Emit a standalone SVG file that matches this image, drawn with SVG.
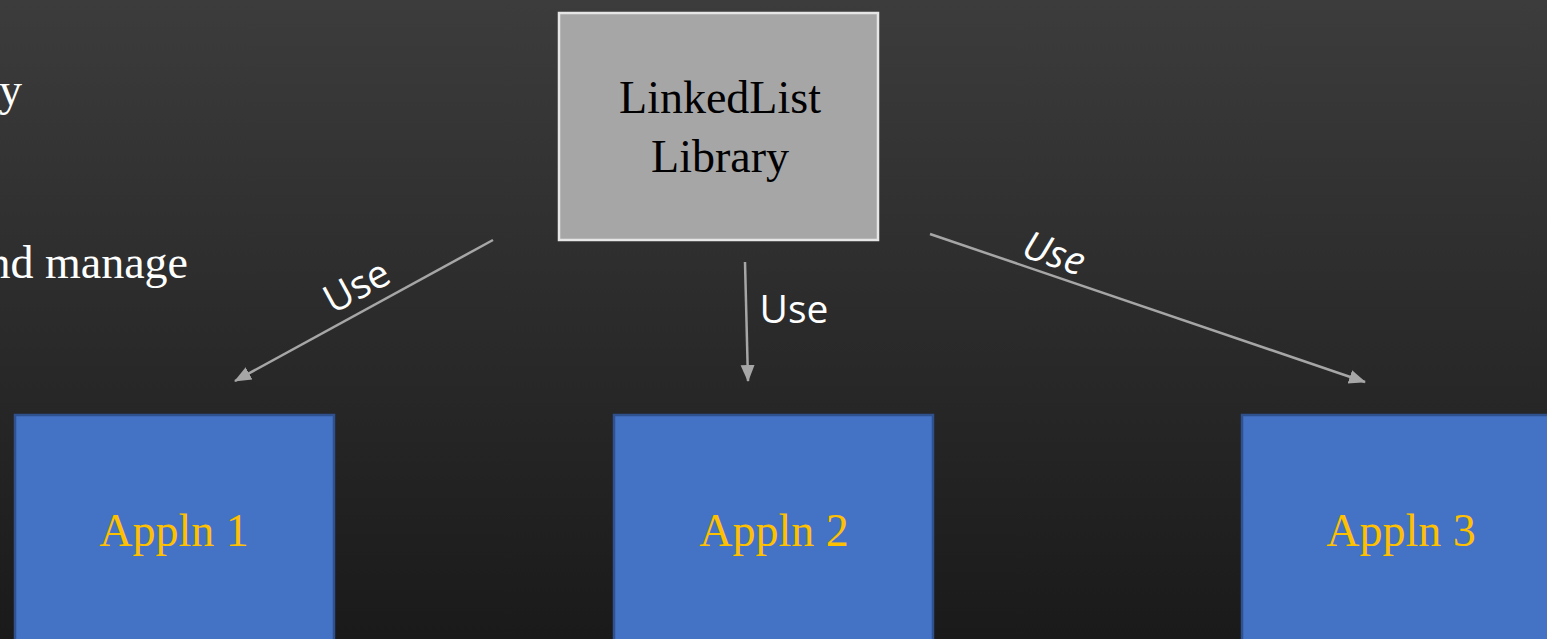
<svg xmlns="http://www.w3.org/2000/svg" width="1547" height="639" viewBox="0 0 1547 639">
<defs>
<linearGradient id="bg" x1="0" y1="0" x2="0" y2="1">
<stop offset="0" stop-color="#3c3c3c"/>
<stop offset="1" stop-color="#1a1a1a"/>
</linearGradient>
<marker id="arr" markerUnits="userSpaceOnUse" markerWidth="18" markerHeight="18" viewBox="0 0 18 18" refX="16" refY="9" orient="auto">
<path d="M0,2 L17,9 L0,16 Z" fill="#a6a6a6"/>
</marker>
<style>
.serif{font-family:"Liberation Serif","Times New Roman",serif;font-size:46px;}
.lib{fill:#a6a6a6;stroke:#e6e6e6;stroke-width:2.5;}
.app{fill:#4472c4;stroke:#2f528f;stroke-width:2.5;}
.apptxt{fill:#ffc000;text-anchor:middle;}
.conn{stroke:#a6a6a6;stroke-width:2.5;fill:none;marker-end:url(#arr);}
.lbl{font-family:"Open Sans","DejaVu Sans",sans-serif;font-size:39px;fill:#ffffff;text-anchor:middle;}
</style>
</defs>
<rect width="1547" height="639" fill="url(#bg)"/>
<g id="bgtext" class="serif" fill="#ffffff" text-anchor="end">
<text x="22" y="105">y</text>
<text x="188" y="278">nd manage</text>
</g>
<g id="library">
<rect class="lib" x="559" y="13" width="319" height="227"/>
<text class="serif" x="720" y="113" text-anchor="middle" fill="#000000">LinkedList</text>
<text class="serif" x="720" y="172" text-anchor="middle" fill="#000000">Library</text>
</g>
<g id="appln1">
<rect class="app" x="15" y="415" width="319" height="240"/>
<text class="serif apptxt" x="174" y="546">Appln 1</text>
</g>
<g id="appln2">
<rect class="app" x="614" y="415" width="319" height="240"/>
<text class="serif apptxt" x="774" y="546">Appln 2</text>
</g>
<g id="appln3">
<rect class="app" x="1242" y="415" width="319" height="240"/>
<text class="serif apptxt" x="1401" y="546">Appln 3</text>
</g>
<g id="connectors">
<line class="conn" x1="493" y1="240" x2="235" y2="381"/>
<line class="conn" x1="745" y1="262" x2="748" y2="381"/>
<line class="conn" x1="930" y1="234" x2="1365" y2="382"/>
<text class="lbl" transform="translate(363,298) rotate(-28.5)">Use</text>
<text class="lbl" x="794" y="323">Use</text>
<text class="lbl" font-style="italic" transform="translate(1050,266) rotate(18.8)">Use</text>
</g>
</svg>
